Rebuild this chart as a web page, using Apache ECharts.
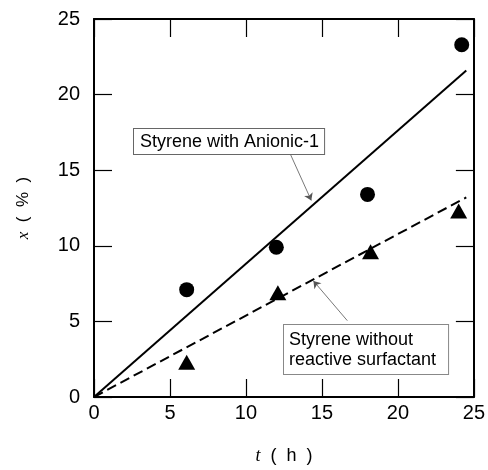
<!DOCTYPE html>
<html><head><meta charset="utf-8">
<script src="https://cdn.jsdelivr.net/npm/echarts@6/dist/echarts.min.js"></script>
<style>html,body{margin:0;padding:0;background:#fff}#c{width:488px;height:470px}</style>
</head><body><div id="c"></div>
<script>
const xTicks = [0, 5, 10, 15, 20, 25];
const tCircle = [6.1, 12.0, 18.0, 24.2];
const xCircle = [7.1, 9.9, 13.4, 23.3];
const tTri = [6.1, 12.1, 18.2, 24.0];
const xTri = [2.3, 6.9, 9.6, 12.3];
const fitWith = [[0, 0], [24.5, 21.6]];
const fitWithout = [[0, 0], [24.5, 13.2]];
const labelWith = 'Styrene with Anionic-1';
const labelWithout = ['Styrene without', 'reactive surfactant'];
const arrowWith = [[12.86, 16.2], [14.3, 13.0]];
const arrowWithout = [[16.67, 5.05], [14.44, 7.68]];

const font = 'Liberation Sans, Arial, sans-serif';
const chart = echarts.init(document.getElementById('c'), null, {renderer: 'canvas'});
const axisCommon = {
  type: 'value', min: 0, max: 25, interval: 5,
  axisLine: {show: true, onZero: false, lineStyle: {color: '#000', width: 2}},
  axisTick: {show: true, inside: true, length: 18, lineStyle: {color: '#000', width: 1.2}},
  splitLine: {show: false}
};
chart.setOption({
  animation: false,
  backgroundColor: '#fff',
  grid: {left: 94, right: 13, top: 19, bottom: 70, containLabel: false},
  xAxis: [
    Object.assign({}, axisCommon, {
      position: 'bottom',
      axisLabel: {color: '#000', fontSize: 20, fontFamily: font, margin: 6},
      name: '{i|t}{n|  (  h  )}', nameLocation: 'middle', nameGap: 50,
      nameTextStyle: {rich: {
        i: {fontStyle: 'italic', fontFamily: 'Liberation Serif, serif', fontSize: 18, color: '#000'},
        n: {fontFamily: font, fontSize: 18, color: '#000'}
      }}
    }),
    Object.assign({}, axisCommon, {position: 'top', axisLabel: {show: false}})
  ],
  yAxis: [
    Object.assign({}, axisCommon, {
      position: 'left',
      axisLabel: {color: '#000', fontSize: 20, fontFamily: font, margin: 14},
      name: '{i|x}{n|  (  %  )}', nameLocation: 'middle', nameGap: 62, nameRotate: 90,
      nameTextStyle: {rich: {
        i: {fontStyle: 'italic', fontFamily: 'Liberation Serif, serif', fontSize: 17, color: '#000'},
        n: {fontFamily: font, fontSize: 17, color: '#000'}
      }}
    }),
    Object.assign({}, axisCommon, {position: 'right', axisLabel: {show: false}})
  ],
  series: [
    {
      type: 'line', data: fitWith, symbol: 'none',
      lineStyle: {color: '#000', width: 2}, z: 2,
      markLine: {
        silent: true, symbol: ['none', 'arrow'], symbolSize: 7,
        lineStyle: {color: '#555', width: 0.8, type: 'solid'}, label: {show: false},
        data: [[{coord: arrowWith[0]}, {coord: arrowWith[1]}]]
      }
    },
    {
      type: 'line', data: fitWithout, symbol: 'none',
      lineStyle: {color: '#000', width: 2, type: [10, 5]}, z: 2,
      markLine: {
        silent: true, symbol: ['none', 'arrow'], symbolSize: 7,
        lineStyle: {color: '#555', width: 0.8, type: 'solid'}, label: {show: false},
        data: [[{coord: arrowWithout[0]}, {coord: arrowWithout[1]}]]
      }
    },
    {
      type: 'scatter', data: tCircle.map((t, i) => [t, xCircle[i]]),
      symbol: 'circle', symbolSize: 15, itemStyle: {color: '#000', opacity: 1}, z: 3
    },
    {
      type: 'scatter', data: tTri.map((t, i) => [t, xTri[i]]),
      symbol: 'triangle', symbolSize: [17, 15], itemStyle: {color: '#000', opacity: 1}, z: 3
    }
  ],
  graphic: [
    {
      type: 'text', left: 133, top: 128, z: 10,
      style: {
        text: labelWith, font: '18px ' + font, fill: '#000',
        backgroundColor: '#fff', borderColor: '#666', borderWidth: 1,
        padding: [4, 5, 3, 6]
      }
    },
    {
      type: 'text', left: 283, top: 324, z: 10,
      style: {
        text: labelWithout.join('\n'), font: '18px ' + font, fill: '#000', lineHeight: 20,
        backgroundColor: '#fff', borderColor: '#888', borderWidth: 1, borderType: [3, 2],
        padding: [5, 12, 4, 5]
      }
    }
  ]
});
</script></body></html>
